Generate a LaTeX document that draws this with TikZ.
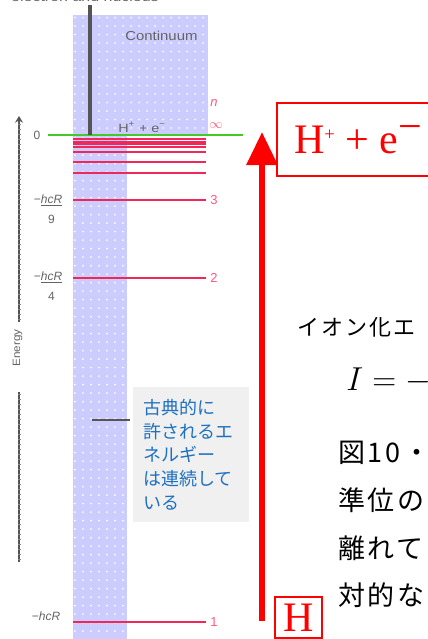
\documentclass[tikz,border=0pt]{standalone}
\usepackage{fontspec}
\usepackage{graphicx}
\setmainfont{Liberation Serif}
\setsansfont{Liberation Sans}
\newfontfamily\jp{Noto Sans CJK JP}
\newfontfamily\jpA[LetterSpace=9]{Noto Sans CJK JP}
\newfontfamily\jpB[LetterSpace=10]{Noto Sans CJK JP}
\usetikzlibrary{arrows.meta}
\definecolor{bandc}{RGB}{204,204,255}
\definecolor{lvl}{RGB}{240,40,90}
\definecolor{lvllab}{RGB}{255,90,120}
\definecolor{grn}{RGB}{70,200,40}
\definecolor{axg}{RGB}{85,85,85}
\definecolor{labg}{RGB}{100,100,100}
\definecolor{boxg}{RGB}{240,240,240}
\definecolor{bluet}{RGB}{30,112,192}
\newcommand\hstretch[2]{\scalebox{#1}[1]{#2}}
\begin{document}
\begin{tikzpicture}[x=0.75pt,y=-0.75pt,
  lab/.style={font=\sffamily\fontsize{9}{15}\selectfont, text=labg, inner sep=0},
  lvlnum/.style={font=\sffamily\fontsize{9.75}{11}\selectfont, text=lvllab, inner sep=0},
  level/.style={lvl, line width=1.25pt},
  axis/.style={axg, line width=1.6pt},
  tickmark/.style={axg!70, line width=0.4pt},
  notebox/.style={fill=boxg, text=bluet, font=\jp\fontsize{13.5}{17.8}\selectfont,
    align=left, text width=72pt, inner xsep=7.5pt, inner ysep=0pt,
    minimum width=87pt, minimum height=101.25pt, anchor=north west},
  redbox/.style={draw=red, text=red, line width=1.6pt},
  jptext/.style={inner sep=0, text=black}
]
\useasboundingbox (0,0) rectangle (428,639);
\clip (0,0) rectangle (428,639);

% band
\fill[bandc] (73,15) rectangle (208,135);
\fill[bandc] (73,135) rectangle (127,639);
\foreach \x in {75,83,...,207} \foreach \y in {17.5,26,...,134}
  \fill[white] (\x,\y) circle[radius=0.75pt];
\foreach \x in {75,83,...,123} \foreach \y in {138,146.5,...,639}
  \fill[white] (\x,\y) circle[radius=0.75pt];

% top cut-off caption
\node[lab, anchor=base] (top) at (85,1.5) {\fontsize{9.75}{11}\selectfont\hstretch{1.23}{electron and nucleus}};

% levels
\foreach \y in {139.3,141.7,144,146.7,152.3,162.3,172.7,200,278,622}
  \draw[level] (73,\y) -- (206,\y);
\draw[grn, line width=2pt] (48,135) -- (243,135);
\coordinate (vtop) at (90,5);
\coordinate (vbot) at (90,135);
\draw[axg, line width=2.4pt] (vtop) -- (vbot);

\node[lab, anchor=base west] (cont) at (125,40) {\fontsize{9.75}{11}\selectfont\hstretch{1.15}{Continuum}};
\node[lab, anchor=base west] (hpe) at (118,132) {\hstretch{1.2}{H\textsuperscript{+} + e\textsuperscript{−}}};
\node[lvlnum] (nlab) at (214,103) {\textit{n}};
\node[lvlnum] (ninf) at (216,126) {$\infty$};
\node[lvlnum] (n3) at (214,200) {3};
\node[lvlnum] (n2) at (214,278) {2};
\node[lvlnum] (n1) at (214,622) {1};

% energy axis
\coordinate (axA) at (19,322);
\coordinate (axB) at (19,116);
\coordinate (axC) at (19,392);
\coordinate (axD) at (19,562);
\draw[axis, -{Stealth[length=5pt,width=6pt]}] (axA) -- (axB);
\draw[axis] (axC) -- (axD);
\foreach \y in {124,129,...,320} \draw[tickmark] (17.5,\y) -- (20.5,\y);
\foreach \y in {394,399,...,560} \draw[tickmark] (17.5,\y) -- (20.5,\y);
\node[lab, rotate=90] (energy) at (17.5,348) {\fontsize{8}{9}\selectfont\hstretch{1.1}{Energy}};

\node[lab] (e0) at (37,135.5) {0};
\node[lab] (e3) at (48,209) {\begin{tabular}{@{}r@{}c@{}}−&\underline{\textit{hcR}}\\&9\end{tabular}};
\node[lab] (e2) at (48,286) {\begin{tabular}{@{}r@{}c@{}}−&\underline{\textit{hcR}}\\&4\end{tabular}};
\node[lab] (e1) at (46,616) {−\textit{hcR}};

% classical energy marker and note
\coordinate (cl1) at (92,420);
\coordinate (cl2) at (130,420);
\draw[axg, line width=1.5pt] (cl1) -- (cl2);
\node[notebox] (note) at (133,387) {古典的に\\許されるエ\\ネルギー\\は連続して\\いる};

% ionization arrow and boxes
\node[redbox, anchor=west, inner xsep=12.75pt, inner ysep=0pt, minimum height=54.75pt,
  font=\fontsize{31.5}{32}\selectfont] (ion) at (276,139.5)
  {H\raisebox{0.31em}{\fontsize{14}{14}\selectfont +} + e\raisebox{0.3em}{−}};
\node[redbox, line width=1.4pt, minimum width=35.25pt, minimum height=30.75pt, inner sep=0,
  font=\fontsize{31.5}{32}\selectfont] (hbox) at (298.5,617.5) {H};
\coordinate (arrS) at (262,621);
\coordinate (arrE) at (262,132);
\draw[red, line width=4.5pt, -{Triangle[length=24.75pt,width=22.5pt]}] (arrS) -- (arrE);

% right-hand text
\node[jptext, anchor=base west, font=\jpA\fontsize{16.5}{18}\selectfont] (ionlab) at (297,335) {イオン化エ};
\node[jptext, anchor=base west, font=\fontsize{28.5}{30}\selectfont] (ieq) at (346,390) {$I = -$};
\node[jptext, anchor=north west, align=left, font=\jpB\fontsize{20.25}{35.8}\selectfont] (para) at (338,441)
  {図10・\\準位の\\離れて\\対的な};
\end{tikzpicture}
\end{document}
